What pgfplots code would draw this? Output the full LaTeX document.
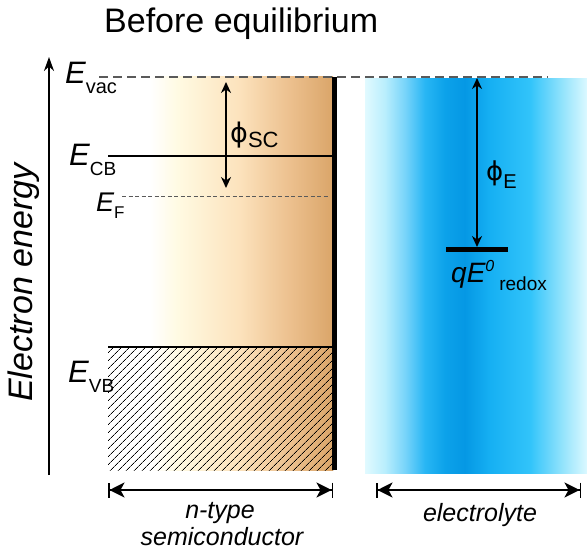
\documentclass[border=0pt]{standalone}
\usepackage{fontspec}
\setmainfont{Liberation Sans}
\newfontfamily\symfont{DejaVu Sans}
\usepackage{pgfplots}
\pgfplotsset{compat=1.18}
\usetikzlibrary{arrows.meta,patterns.meta}

% semiconductor: white on the left, warm tan towards the interface
\definecolor{sc1}{RGB}{255,250,226}
\definecolor{sc2}{RGB}{252,226,188}
\definecolor{sc3}{RGB}{236,192,142}
\definecolor{sc4}{RGB}{218,165,105}
\pgfdeclarehorizontalshading{semigrad}{100bp}{%
  color(0bp)=(white); color(25bp)=(white); color(34.3bp)=(white);
  color(40.6bp)=(sc1); color(54.3bp)=(sc2); color(65.4bp)=(sc3);
  color(75bp)=(sc4); color(100bp)=(sc4)}

% electrolyte: pale edges, deep blue in the middle
\definecolor{el0}{RGB}{225,250,255}
\definecolor{el1}{RGB}{185,238,253}
\definecolor{el2}{RGB}{120,212,250}
\definecolor{el3}{RGB}{40,182,244}
\definecolor{el4}{RGB}{12,162,234}
\definecolor{el5}{RGB}{5,152,228}
\definecolor{el6}{RGB}{22,176,243}
\definecolor{el7}{RGB}{50,196,250}
\definecolor{el8}{RGB}{140,225,252}
\definecolor{el9}{RGB}{220,249,255}
\pgfdeclarehorizontalshading{elgrad}{100bp}{%
  color(0bp)=(el0); color(25bp)=(el0); color(29.5bp)=(el1);
  color(34bp)=(el2); color(38.5bp)=(el3); color(43bp)=(el4);
  color(47.5bp)=(el5); color(53.2bp)=(el6); color(62.2bp)=(el7);
  color(68.9bp)=(el8); color(75bp)=(el9); color(100bp)=(el9)}

\definecolor{dashgray}{RGB}{90,90,90}
\newcommand\fs[1]{\fontsize{#1bp}{#1bp}\selectfont}

\begin{document}
\begin{tikzpicture}
\begin{axis}[
  width=587bp, height=549bp, scale only axis,
  xmin=0, xmax=587, ymin=0, ymax=549, y dir=reverse,
  hide axis, clip=false,
  every axis plot/.append style={no markers},
]
% frame of the drawing area
\addplot[draw=none] coordinates {(0,0) (587,549)};

% semiconductor and electrolyte bodies
\addplot[draw=none, shading=semigrad] coordinates {(108,77) (333,77) (333,470) (108,470)} -- cycle;
\addplot[draw=none, shading=elgrad] coordinates {(365,79) (587,79) (587,473) (365,473)} -- cycle;

% filled valence band
\addplot[draw=none, pattern={Lines[angle=45,distance=6bp,line width=0.95bp]}]
  coordinates {(108,347) (333,347) (333,470) (108,470)} -- cycle;

% energy levels
\addplot[dashgray, line width=1.6bp, dash pattern=on 9bp off 5bp] coordinates {(99,77) (548,77)};
\addplot[black, line width=2bp] coordinates {(108,156) (333,156)};
\addplot[dashgray, line width=1bp, dash pattern=on 4bp off 2.5bp] coordinates {(122,196) (328,196)};
\addplot[black, line width=2bp] coordinates {(108,347) (333,347)};
\addplot[black, line width=5bp] coordinates {(446,249.5) (508,249.5)};

% interface
\addplot[black, line width=5bp] coordinates {(334.5,77) (334.5,470)};

% energy axis
\addplot[black, line width=2bp, -{Stealth[length=14bp,width=10bp]}] coordinates {(49,475) (49,57)};

% work functions
\addplot[black, line width=2bp, {Stealth[length=11bp,width=10bp]}-{Stealth[length=11bp,width=10bp]}]
  coordinates {(226,82) (226,188)};
\addplot[black, line width=2bp, {Stealth[length=11bp,width=10bp]}-{Stealth[length=11bp,width=10bp]}]
  coordinates {(477,78) (477,247)};

% extents of the two phases
\addplot[black, line width=2bp,
  {Bar[width=15bp,line width=1.5bp]Stealth[length=15bp,width=15bp,inset=4bp]}-{Stealth[length=15bp,width=15bp,inset=4bp]Bar[width=15bp,line width=1.5bp]}]
  coordinates {(108,490) (333,490)};
\addplot[black, line width=2bp,
  {Bar[width=15bp,line width=1.5bp]Stealth[length=15bp,width=15bp,inset=4bp]}-{Stealth[length=15bp,width=15bp,inset=4bp]Bar[width=15bp,line width=1.5bp]}]
  coordinates {(376,490) (581,490)};

% labels
\node[anchor=base west, inner sep=0] at (axis cs:104,33) {\fs{34}Before equilibrium};
\node[anchor=base west, inner sep=0, rotate=90] at (axis cs:32,402) {\fs{34}\itshape Electron energy};

\node[anchor=base west, inner sep=0] at (axis cs:65,84) {\fs{31}\itshape E\upshape\raisebox{-10bp}{\fs{20}vac}};
\node[anchor=base west, inner sep=0] at (axis cs:69,165) {\fs{31}\itshape E\upshape\raisebox{-10bp}{\fs{19}CB}};
\node[anchor=base west, inner sep=0] at (axis cs:96,211) {\fs{27}\itshape E\upshape\raisebox{-7bp}{\fs{17}F}};
\node[anchor=base west, inner sep=0] at (axis cs:68,382) {\fs{31}\itshape E\upshape\raisebox{-10bp}{\fs{19}VB}};

\node[anchor=base west, inner sep=0] at (axis cs:230,142) {{\symfont\fs{27}ϕ}\raisebox{-5bp}{\fs{22}SC}};
\node[anchor=base west, inner sep=0] at (axis cs:486,180) {{\symfont\fs{26}ϕ}\raisebox{-8bp}{\fs{20}E}};
\node[anchor=base west, inner sep=0] at (axis cs:451,282)
  {\fs{28}\itshape qE\raisebox{11bp}{\fs{16}0}\upshape\hspace{5bp}\raisebox{-8bp}{\fs{19}redox}};

\node[anchor=base, inner sep=0] at (axis cs:220,518) {\fs{25}\itshape n-type};
\node[anchor=base, inner sep=0] at (axis cs:222,545) {\fs{25}\itshape semiconductor};
\node[anchor=base, inner sep=0] at (axis cs:480,521) {\fs{25}\itshape electrolyte};
\end{axis}
\end{tikzpicture}
\end{document}
